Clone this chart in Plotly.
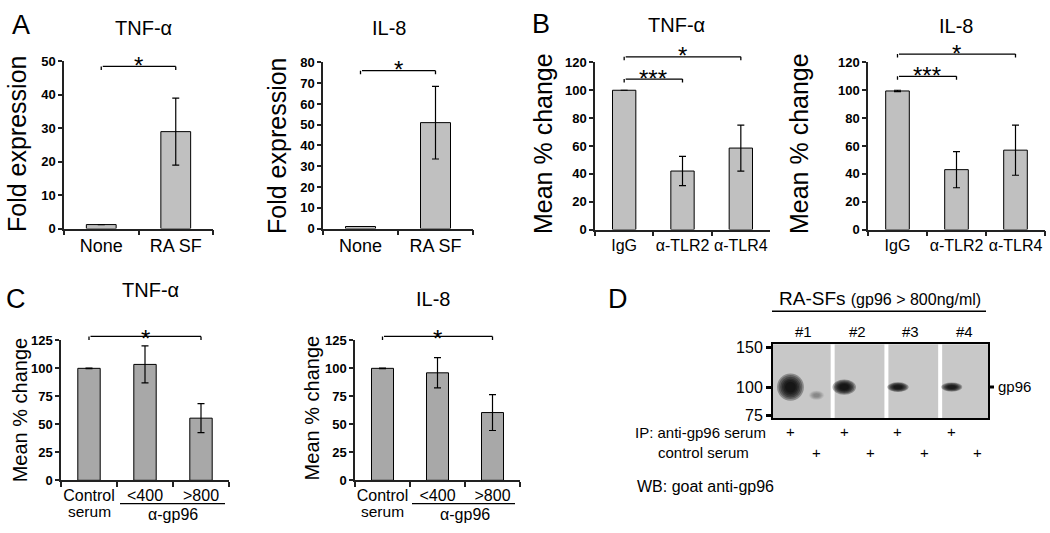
import math
import plotly.graph_objects as go

W, H = 1050, 533
FONT = "Liberation Sans, Arial, sans-serif"

# ---- A: fold expression ----
A_CATS = ["None", "RA SF"]
A_TNF = [1.2, 29]
A_TNF_ERR = [0, 10]
A_IL8 = [1, 51]
A_IL8_ERR = [0, 17.5]

# ---- B: TLR blocking, mean % change ----
B_CATS = ["IgG", "α-TLR2", "α-TLR4"]
B_TNF = [100, 42, 58.5]
B_TNF_ERR = [0, 10.5, 16.5]
B_IL8 = [99.5, 43, 57]
B_IL8_ERR = [0.5, 13, 18]

# ---- C: gp96 serum, mean % change ----
C_CATS = ["Control", "<400", ">800"]
C_TICKS = ["Control", "&lt;400", "&gt;800"]
C_TNF = [100, 103.5, 55.5]
C_TNF_ERR = [0.3, 16.5, 13]
C_IL8 = [100, 96, 60.5]
C_IL8_ERR = [0.3, 13.5, 16]

# significance brackets: (from, to, level, label)
A_TNF_SIG = [("None", "RA SF", 48.5, "*")]
A_IL8_SIG = [("None", "RA SF", 76, "*")]
B_TNF_SIG = [("IgG", "α-TLR2", 108, "***"), ("IgG", "α-TLR4", 124, "*")]
B_IL8_SIG = [("IgG", "α-TLR2", 110, "***"), ("IgG", "α-TLR4", 126, "*")]
C_TNF_SIG = [("Control", ">800", 128.5, "*")]
C_IL8_SIG = [("Control", ">800", 128.5, "*")]

# ---- D: western blot ----
SAMPLES = ["#1", "#2", "#3", "#4"]
LANE_SAMPLE = [0, 0, 1, 1, 2, 2, 3, 3]
LANE_IP = ["anti-gp96", "control"] * 4
BAND_SIGNAL = [1.0, 0.12, 0.75, 0.0, 0.6, 0.0, 0.58, 0.0]
BAND_KDA = [100, 92, 100, 100, 100, 100, 100, 100]
MW_MARKERS = [150, 100, 75]


def px(x):
    return x / W


def py(y):
    return 1 - y / H


def xaxis_style(x0, x1, anchor, size, tickvals=None, ticktext=None):
    d = dict(
        domain=[px(x0), px(x1)], anchor=anchor, type="category",
        showline=True, linecolor="#222", linewidth=1.5,
        ticks="outside", tickson="boundaries", ticklen=5,
        tickcolor="#222", tickwidth=1.5, tickangle=0,
        showgrid=False, zeroline=False,
        tickfont=dict(size=size, color="black"),
    )
    if tickvals is not None:
        d.update(tickmode="array", tickvals=tickvals, ticktext=ticktext)
    return d


def yaxis_style(y0, y1, anchor, top, step):
    return dict(
        domain=[py(y1), py(y0)], anchor=anchor, range=[0, top], dtick=step,
        showline=True, linecolor="#222", linewidth=1.5,
        ticks="outside", ticklen=4, tickcolor="#222", tickwidth=1.5,
        showgrid=False, zeroline=False,
        tickfont=dict(size=13, color="black", weight="bold"),
    )


fig = go.Figure()
ann = []
shapes = []

panels = [
    ("x", "y", A_CATS, A_TNF, A_TNF_ERR, A_TNF_SIG, "#C0C0C0", 50, 1),
    ("x2", "y2", A_CATS, A_IL8, A_IL8_ERR, A_IL8_SIG, "#C0C0C0", 80, 1),
    ("x3", "y3", B_CATS, B_TNF, B_TNF_ERR, B_TNF_SIG, "#C0C0C0", 120, 1),
    ("x4", "y4", B_CATS, B_IL8, B_IL8_ERR, B_IL8_SIG, "#C0C0C0", 120, 1),
    ("x5", "y5", C_CATS, C_TNF, C_TNF_ERR, C_TNF_SIG, "#A8A8A8", 125, -2),
    ("x6", "y6", C_CATS, C_IL8, C_IL8_ERR, C_IL8_SIG, "#A8A8A8", 125, -2),
]

for xa, ya, cats, vals, errs, sigs, colour, top, star_shift in panels:
    fig.add_trace(go.Bar(
        x=cats, y=vals, width=0.4,
        marker=dict(color=colour, line=dict(color="black", width=1)),
        error_y=dict(type="data", array=errs, visible=True,
                     color="black", thickness=1.2, width=3.5),
        xaxis=xa, yaxis=ya, showlegend=False,
    ))
    # brackets may sit above the axis range, so they use the axis domain
    yd = ya + " domain"
    for a, b, level, label in sigs:
        i, j = cats.index(a), cats.index(b)
        lv = level / top
        seg = dict(showarrow=True, arrowhead=0, arrowwidth=1.3,
                   arrowcolor="black", text="", standoff=0,
                   startstandoff=0, xref=xa, yref=yd)
        ann.append(dict(seg, x=j, y=lv, ax=i, ay=0, axref=xa))
        for k in (i, j):
            ann.append(dict(seg, x=k, y=lv, ax=0, ay=5))
        ann.append(dict(x=(i + j) / 2, y=lv, xref=xa, yref=yd,
                        text=label, showarrow=False, xanchor="center",
                        yanchor="middle", yshift=star_shift,
                        font=dict(size=24)))


# ---- western blot subplot ----
def lane_x(i):
    return 2 * LANE_SAMPLE[i] + (0.65 if LANE_IP[i] == "anti-gp96" else 1.62)


band_lanes = [i for i, s in enumerate(BAND_SIGNAL) if s > 0]
fig.add_trace(go.Scatter(
    x=[lane_x(i) for i in band_lanes],
    y=[BAND_KDA[i] for i in band_lanes],
    mode="markers", marker=dict(opacity=0),
    xaxis="x7", yaxis="y7", showlegend=False,
))

shapes.append(dict(type="rect", xref="x7 domain", yref="y7 domain",
                   x0=0, x1=1, y0=0, y1=1, fillcolor="#C8C8C8",
                   line=dict(width=0), layer="below"))
for i in band_lanes:
    s = BAND_SIGNAL[i]
    c = lane_x(i)
    w = 0.5 + 0.5 * s
    hl = max(0.06 * s * s, 0.02)
    alpha = min(1.0, 1.6 * s)
    for f in [1.0, 0.88, 0.76, 0.64, 0.52, 0.4]:
        shapes.append(dict(
            type="circle", xref="x7", yref="y7", layer="below",
            x0=c - w * f / 2, x1=c + w * f / 2,
            y0=BAND_KDA[i] * 10 ** (-hl * f), y1=BAND_KDA[i] * 10 ** (hl * f),
            fillcolor=f"rgba(0,0,0,{0.3 * alpha:.3f})", line=dict(width=0),
        ))
for k in range(len(SAMPLES) - 1):
    shapes.append(dict(type="line", xref="x7", yref="y7 domain", layer="below",
                       x0=2 * k + 2.22, x1=2 * k + 2.22, y0=0, y1=1,
                       line=dict(color="white", width=4)))

for k, name in enumerate(SAMPLES):
    ann.append(dict(x=2 * k + 1.13, y=py(334), xref="x7", yref="paper",
                    text=name, showarrow=False, xanchor="center",
                    yanchor="middle", font=dict(size=15)))
for i, ip in enumerate(LANE_IP):
    ann.append(dict(x=lane_x(i), y=py(437 if ip == "anti-gp96" else 458),
                    xref="x7", yref="paper", text="+", showarrow=False,
                    xanchor="center", yanchor="middle", font=dict(size=15)))


# ---- text: titles, panel letters, axis titles ----
def text(x, y, s, size, **kw):
    d = dict(x=px(x), y=py(y), xref="paper", yref="paper", text=s,
             showarrow=False, xanchor="center", yanchor="middle",
             font=dict(size=size, color="black"))
    d.update(kw)
    ann.append(d)


for x, y, s in [(143, 22, "TNF-α"), (389, 22, "IL-8"), (676, 19, "TNF-α"),
                (956, 20, "IL-8"), (150, 291, "TNF-α"), (433, 300, "IL-8")]:
    text(x, y, s, 20)
for x, y, s in [(21, 19, "A"), (541, 18, "B"), (16, 300, "C"), (618, 300, "D")]:
    text(x, y, s, 27)
for x, y, s, size in [(17, 141, "Fold expression", 25), (277, 143, "Fold expression", 25),
                      (543, 141, "Mean % change", 25), (799, 141, "Mean % change", 25),
                      (20, 415, "Mean % change", 20), (312, 413, "Mean % change", 20)]:
    text(x, y, s, size, textangle=-90)

# C: second-line labels and the α-gp96 grouping line
for xa, x0, x1 in [("x5", 120, 225), ("x6", 412, 515)]:
    ann.append(dict(x=0, y=py(519), xref=xa, yref="paper", text="serum",
                    showarrow=False, xanchor="center", yanchor="middle",
                    font=dict(size=15.5)))
    ann.append(dict(x=1.5, y=py(522), xref=xa, yref="paper", text="α-gp96",
                    showarrow=False, xanchor="center", yanchor="middle",
                    font=dict(size=16)))
    shapes.append(dict(type="line", xref="paper", yref="paper",
                       x0=px(x0), x1=px(x1), y0=py(511), y1=py(511),
                       line=dict(color="black", width=1.3)))

# D: headings and row labels
text(880, 300, 'RA-SFs <span style="font-size:16px">(gp96 &gt; 800ng/ml)</span>', 19)
shapes.append(dict(type="line", xref="paper", yref="paper",
                   x0=px(772), x1=px(986), y0=py(313), y1=py(313),
                   line=dict(color="black", width=1.5)))
text(996, 391, "gp96", 15, xanchor="left")
shapes.append(dict(type="line", xref="paper", yref="paper",
                   x0=px(990), x1=px(994), y0=py(391), y1=py(391),
                   line=dict(color="black", width=3)))
text(633, 438, "IP: anti-gp96 serum", 15, xanchor="left")
text(656, 458, "control serum", 15, xanchor="left")
text(635, 493, "WB: goat anti-gp96", 16, xanchor="left")

fig.update_layout(
    width=W, height=H, autosize=False,
    margin=dict(l=0, r=0, t=0, b=0),
    paper_bgcolor="white", plot_bgcolor="white",
    font=dict(family=FONT, color="black"),
    showlegend=False, bargap=0.6,
    xaxis=xaxis_style(64, 213, "y", 18),
    yaxis=yaxis_style(56, 228, "x", 50, 10),
    xaxis2=xaxis_style(323, 473, "y2", 18),
    yaxis2=yaxis_style(57, 228, "x2", 80, 10),
    xaxis3=xaxis_style(595, 770, "y3", 16),
    yaxis3=yaxis_style(57, 229, "x3", 120, 20),
    xaxis4=xaxis_style(868, 1045, "y4", 16),
    yaxis4=yaxis_style(57, 229, "x4", 120, 20),
    xaxis5=xaxis_style(61, 229, "y5", 16, C_CATS, C_TICKS),
    yaxis5=yaxis_style(343, 487, "x5", 125, 25),
    xaxis6=xaxis_style(355, 520, "y6", 16, C_CATS, C_TICKS),
    yaxis6=yaxis_style(343, 487, "x6", 125, 25),
    xaxis7=dict(domain=[px(773), px(988)], anchor="y7", range=[0, 8],
                showline=True, mirror=True, linewidth=2, linecolor="black",
                showticklabels=False, ticks="", showgrid=False, zeroline=False),
    yaxis7=dict(domain=[py(423), py(347)], anchor="x7", type="log",
                range=[math.log10(73), math.log10(154.5)],
                tickmode="array", tickvals=MW_MARKERS,
                ticktext=[str(m) for m in MW_MARKERS],
                ticks="outside", ticklen=5, tickwidth=3, tickcolor="black",
                showline=True, mirror=True, linewidth=2, linecolor="black",
                showgrid=False, zeroline=False,
                tickfont=dict(size=16, color="black")),
    annotations=ann,
    shapes=shapes,
)

# the page body has a default margin; remove it so the figure sits at 0,0
fig.write_html("out.html", config={"displayModeBar": False},
               post_script="document.body.style.margin='0px';")
